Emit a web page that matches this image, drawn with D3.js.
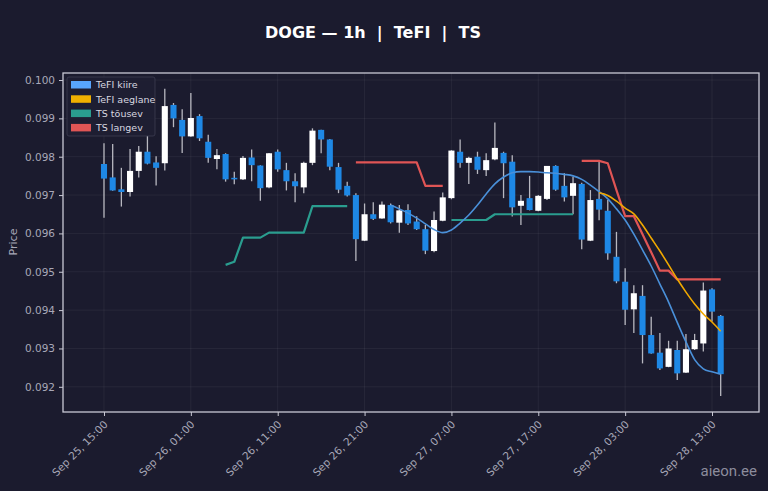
<!DOCTYPE html>
<html><head><meta charset="utf-8">
<script src="https://cdn.jsdelivr.net/npm/d3@7"></script>
<style>
html,body{margin:0;padding:0;background:#1b1b2e;}
svg{display:block;font-family:"DejaVu Sans",sans-serif;}
</style></head><body>
<svg id="c" width="768" height="491"></svg>
<script>
// ---- data (hourly candles, Sep 25 15:00 -> Sep 28 14:00) ----
const startTime = Date.UTC(2025, 8, 25, 15);
const open  = [0.09781,0.09746,0.09715,0.09708,0.09763,0.09813,0.09785,0.09783,0.09935,0.09896,
               0.09853,0.09906,0.09839,0.09794,0.09807,0.09745,0.09741,0.09798,0.09777,0.09720,
               0.09813,0.09765,0.09736,0.09720,0.09784,0.09870,0.09845,0.09773,0.09724,0.09700,
               0.09581,0.09650,0.09639,0.09674,0.09628,0.09661,0.09631,0.09611,0.09554,0.09633,
               0.09692,0.09813,0.09784,0.09800,0.09765,0.09793,0.09810,0.09787,0.09672,0.09692,
               0.09659,0.09690,0.09776,0.09724,0.09698,0.09729,0.09581,0.09690,0.09659,0.09539,
               0.09474,0.09402,0.09437,0.09335,0.09289,0.09252,0.09296,0.09237,0.09298,0.09313,
               0.09454,0.09385];
const high  = [0.09835,0.09833,0.09771,0.09820,0.09828,0.09854,0.09801,0.09977,0.09940,0.09924,
               0.09966,0.09911,0.09857,0.09820,0.09809,0.09761,0.09802,0.09819,0.09778,0.09810,
               0.09819,0.09784,0.09757,0.09787,0.09874,0.09870,0.09846,0.09784,0.09735,0.09705,
               0.09678,0.09681,0.09683,0.09678,0.09674,0.09676,0.09645,0.09622,0.09657,0.09707,
               0.09817,0.09845,0.09800,0.09813,0.09809,0.09889,0.09813,0.09804,0.09700,0.09750,
               0.09700,0.09776,0.09778,0.09757,0.09748,0.09732,0.09713,0.09787,0.09687,0.09604,
               0.09509,0.09465,0.09465,0.09383,0.09340,0.09320,0.09320,0.09338,0.09338,0.09472,
               0.09457,0.09387];
const low   = [0.09641,0.09711,0.09670,0.09696,0.09746,0.09780,0.09725,0.09764,0.09877,0.09810,
               0.09852,0.09841,0.09784,0.09767,0.09735,0.09728,0.09739,0.09736,0.09685,0.09718,
               0.09761,0.09712,0.09681,0.09705,0.09778,0.09809,0.09765,0.09705,0.09696,0.09528,
               0.09580,0.09635,0.09638,0.09626,0.09602,0.09622,0.09609,0.09546,0.09551,0.09632,
               0.09689,0.09771,0.09729,0.09755,0.09750,0.09791,0.09692,0.09644,0.09622,0.09660,
               0.09658,0.09687,0.09711,0.09683,0.09650,0.09559,0.09580,0.09634,0.09531,0.09470,
               0.09361,0.09340,0.09261,0.09286,0.09244,0.09251,0.09218,0.09236,0.09296,0.09292,
               0.09370,0.09176];
const close = [0.09743,0.09712,0.09708,0.09763,0.09813,0.09782,0.09771,0.09932,0.09900,0.09853,
               0.09901,0.09848,0.09797,0.09804,0.09741,0.09741,0.09797,0.09778,0.09718,0.09809,
               0.09767,0.09736,0.09723,0.09784,0.09868,0.09845,0.09774,0.09714,0.09699,0.09585,
               0.09650,0.09638,0.09675,0.09629,0.09660,0.09626,0.09611,0.09555,0.09635,0.09694,
               0.09816,0.09784,0.09797,0.09766,0.09791,0.09823,0.09783,0.09668,0.09685,0.09661,
               0.09698,0.09776,0.09714,0.09694,0.09731,0.09584,0.09687,0.09662,0.09548,0.09475,
               0.09401,0.09444,0.09335,0.09287,0.09248,0.09300,0.09235,0.09298,0.09322,0.09451,
               0.09396,0.09233];
const _ = null;
const tefiFast = [_,_,_,_,_,_,_,_,_,_, _,_,_,_,_,_,_,_,_,_, _,_,_,_,_,_,_,_,_,_, _,_,_,
               0.09674,0.09664,0.09653,0.09640,0.09625,0.09610,0.09602,
               0.09609,0.09627,0.09648,0.09674,0.09703,0.09729,0.09747,0.09758,0.09761,0.09761,
               0.09760,0.09758,0.09757,0.09754,0.09750,0.09741,0.09726,0.09709,0.09690,0.09664,
               0.09635,0.09598,0.09557,0.09515,0.09468,0.09421,0.09368,0.09317,0.09271,0.09247,
               0.09239,0.09233];
const tefiSlow = [_,_,_,_,_,_,_,_,_,_, _,_,_,_,_,_,_,_,_,_, _,_,_,_,_,_,_,_,_,_,
               _,_,_,_,_,_,_,_,_,_, _,_,_,_,_,_,_,_,_,_, _,_,_,_,_,_,_,
               0.09706,0.09699,0.09684,0.09666,0.09651,0.09622,0.09588,0.09554,0.09518,0.09481,
               0.09447,0.09416,0.09390,0.09369,0.09345];
const tsUp = [_,_,_,_,_,_,_,_,_,_, _,_,_,_,
               0.09518,0.09526,0.09589,0.09589,0.09589,0.09602,0.09602,0.09602,0.09602,0.09602,
               0.09671,0.09671,0.09671,0.09671,0.09671,
               _,_,_,_,_,_,_,_,_,_,_,
               0.09635,0.09635,0.09635,0.09635,0.09635,0.09650,0.09650,0.09650,0.09650,0.09650,
               0.09650,0.09650,0.09650,0.09650,0.09650,
               _,_,_,_,_,_,_,_,_,_,_,_,_,_,_,_,_];
const tsDown = [_,_,_,_,_,_,_,_,_,_, _,_,_,_,_,_,_,_,_,_, _,_,_,_,_,_,_,_,_,
               0.09785,0.09785,0.09785,0.09785,0.09785,0.09785,0.09785,0.09785,0.09724,0.09724,0.09724,
               _,_,_,_,_,_,_,_,_,_,_,_,_,_,_,
               0.09789,0.09789,0.09789,0.09783,0.09713,0.09645,0.09645,0.09598,0.09551,0.09503,
               0.09503,0.09480,0.09480,0.09480,0.09480,0.09480,0.09480];
const yTicks = [0.092,0.093,0.094,0.095,0.096,0.097,0.098,0.099,0.100];
const xTickHours = [0,10,20,30,40,50,60,70]; // hours after start
const legendItems = [
  {label:"TeFI kiire", color:"#58a6ff"},
  {label:"TeFI aeglane", color:"#f0b000"},
  {label:"TS tõusev", color:"#2a9d8f"},
  {label:"TS langev", color:"#e05555"}
];
const titleText = "DOGE — 1h  |  TeFI  |  TS";

// ---- chart ----
const H = 3600e3;
const times = open.map((d,i)=>new Date(startTime + i*H));
const svg = d3.select("#c");
const W = 768, HT = 491;
const m = {left:63, right:759, top:73, bottom:412};
svg.append("rect").attr("width",W).attr("height",HT).attr("fill","#1b1b2e");

const x = d3.scaleTime()
  .domain([new Date(startTime - 4.72*H), new Date(startTime + 71*H + 4.41*H)])
  .range([m.left, m.right]);
const y = d3.scaleLinear().domain([0.091343, 0.100183]).range([m.bottom, m.top]);

// grid
const g = svg.append("g");
const xTickVals = xTickHours.map(h=>new Date(startTime + h*H));
g.selectAll(".gx").data(xTickVals).enter().append("line")
  .attr("x1",d=>x(d)).attr("x2",d=>x(d)).attr("y1",m.top).attr("y2",m.bottom)
  .attr("stroke","#ffffff").attr("stroke-opacity",0.07).attr("stroke-width",0.8);
g.selectAll(".gy").data(yTicks).enter().append("line")
  .attr("x1",m.left).attr("x2",m.right).attr("y1",d=>y(d)).attr("y2",d=>y(d))
  .attr("stroke","#ffffff").attr("stroke-opacity",0.07).attr("stroke-width",0.8);

// candles
const bw = (x(times[1]) - x(times[0])) * 0.7;
const cg = svg.append("g");
times.forEach((t,i)=>{
  const up = close[i] >= open[i];
  const cx = x(t);
  cg.append("line").attr("x1",cx).attr("x2",cx)
    .attr("y1",y(high[i])).attr("y2",y(low[i]))
    .attr("stroke","#b8b8c0").attr("stroke-width",1.3);
  const top = y(Math.max(open[i],close[i])), bot = y(Math.min(open[i],close[i]));
  cg.append("rect").attr("x",cx-bw/2).attr("width",bw)
    .attr("y",top).attr("height",Math.max(bot-top,1.2))
    .attr("fill", up ? "#ffffff" : "#1e88e5");
});

// lines
function drawLine(vals, color, curve, w){
  const line = d3.line().defined(d=>d.v!==null).x(d=>x(d.t)).y(d=>y(d.v)).curve(curve);
  svg.append("path").datum(vals.map((v,i)=>({t:times[i], v})))
    .attr("d", line).attr("fill","none").attr("stroke",color)
    .attr("stroke-width",w).attr("stroke-linejoin","round");
}
drawLine(tsUp, "#2a9d8f", d3.curveLinear, 2.2);
drawLine(tsDown, "#e05555", d3.curveLinear, 2.2);
drawLine(tefiFast, "#4a90d9", d3.curveMonotoneX, 1.6);
drawLine(tefiSlow, "#f0a800", d3.curveMonotoneX, 1.6);

// frame
svg.append("rect").attr("x",m.left).attr("y",m.top)
  .attr("width",m.right-m.left).attr("height",m.bottom-m.top)
  .attr("fill","none").attr("stroke","#c8c8d4").attr("stroke-width",1.3);

// y axis
const yAxis = d3.axisLeft(y).tickValues(yTicks).tickFormat(d3.format(".3f")).tickSize(4).tickPadding(4);
const ya = svg.append("g").attr("transform",`translate(${m.left},0)`).call(yAxis);
ya.select(".domain").remove();
ya.selectAll("line").attr("stroke","#c8c8d4");
ya.selectAll("text").attr("fill","#a8a8b8").attr("font-size","10.5px").attr("font-family","DejaVu Sans");

// x axis
const xAxis = d3.axisBottom(x).tickValues(xTickVals).tickFormat(d3.utcFormat("%b %d, %H:%M")).tickSize(4);
const xa = svg.append("g").attr("transform",`translate(0,${m.bottom})`).call(xAxis);
xa.select(".domain").remove();
xa.selectAll("line").attr("stroke","#c8c8d4");
xa.selectAll("text").attr("fill","#a8a8b8").attr("font-size","10.5px").attr("font-family","DejaVu Sans")
  .attr("text-anchor","end").attr("dy",null).attr("y",null)
  .attr("transform","translate(4,13) rotate(-45)");

// labels
svg.append("text").attr("x",373).attr("y",38).attr("text-anchor","middle")
  .attr("fill","#ffffff").attr("font-weight","bold").attr("font-size","16px")
  .style("white-space","pre").attr("xml:space","preserve").text(titleText);
svg.append("text").attr("transform","translate(17,242) rotate(-90)").attr("text-anchor","middle")
  .attr("fill","#a8a8b8").attr("font-size","11px").text("Price");
svg.append("text").attr("x",757).attr("y",476).attr("text-anchor","end")
  .attr("fill","#8c8c9c").attr("font-size","15px").attr("font-family","Roboto").text("aieon.ee");

// legend
const lg = svg.append("g").attr("transform","translate(67,77)");
lg.append("rect").attr("width",88).attr("height",59).attr("rx",2)
  .attr("fill","#1e1e32").attr("fill-opacity",0.85).attr("stroke","#3c3c52").attr("stroke-width",0.8);
legendItems.forEach((d,i)=>{
  const yy = 8 + i*14.3;
  lg.append("rect").attr("x",4).attr("y",yy-4).attr("width",20).attr("height",7.5).attr("fill",d.color);
  lg.append("text").attr("x",29).attr("y",yy+3.2).attr("fill","#d8d8e0").attr("font-size","9.5px").text(d.label);
});
</script>
</body></html>
